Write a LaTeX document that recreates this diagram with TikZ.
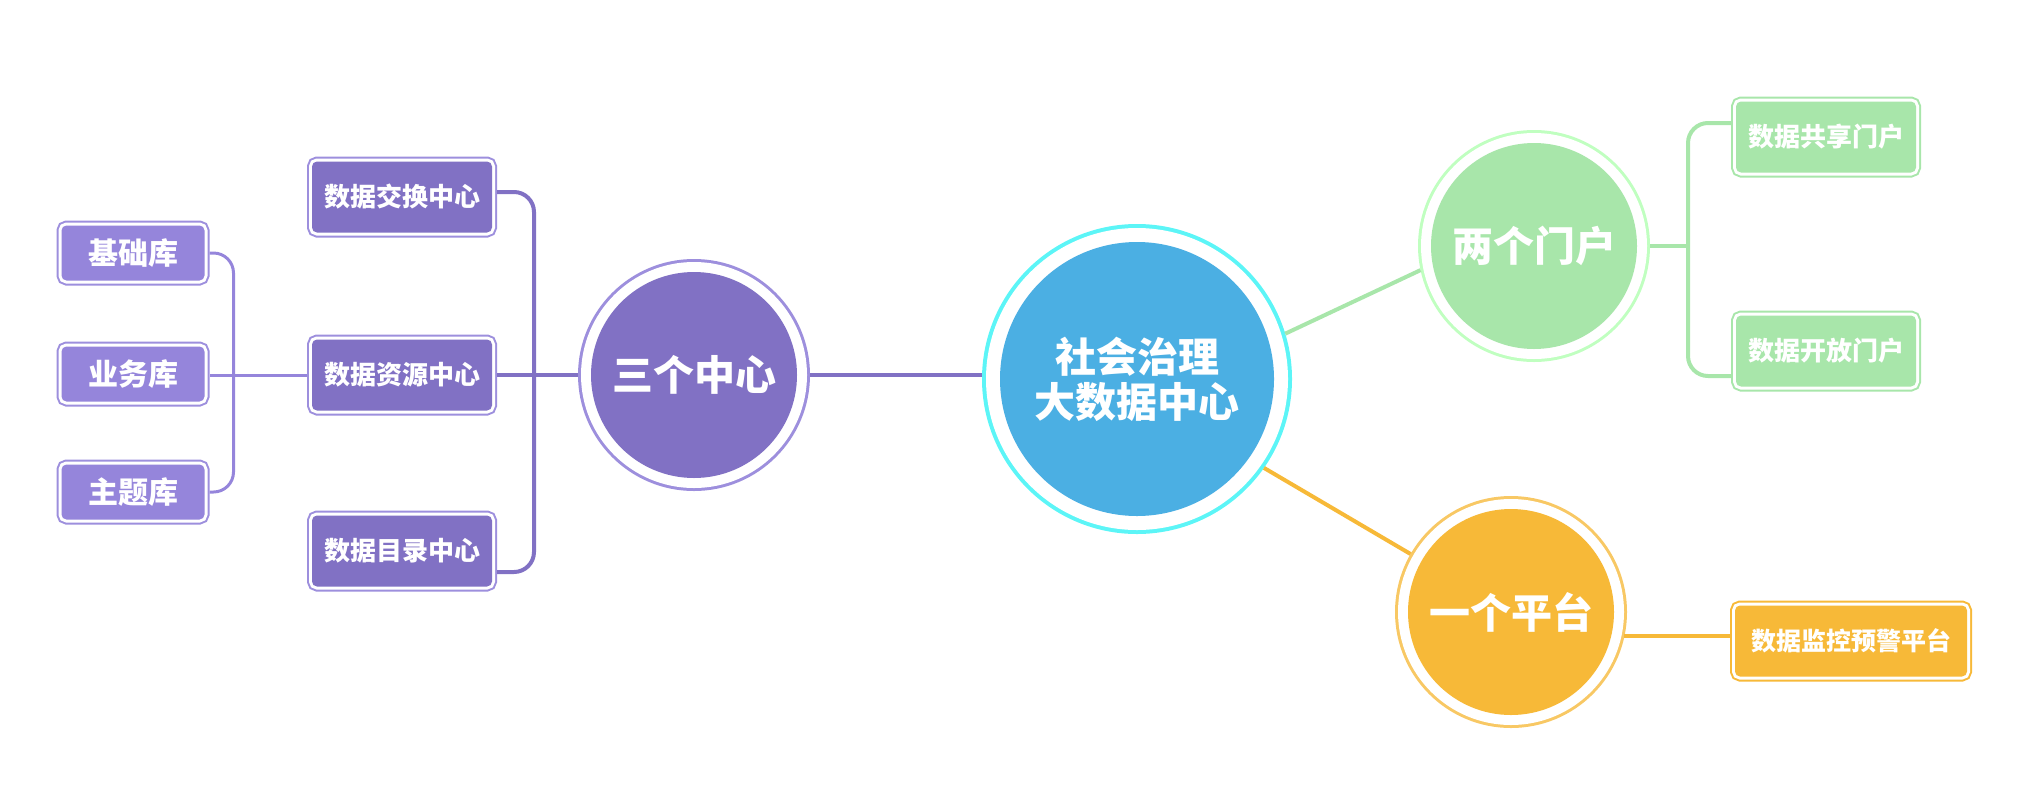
\documentclass[tikz, border = 0pt]{standalone}
\usepackage{fontspec}
\newfontfamily\cjk{Noto Sans CJK SC}
\usepackage{tikz}

\definecolor{hubblue}{RGB}{75, 175, 227}
\definecolor{hubring}{RGB}{92, 245, 247}
\definecolor{centrepurple}{RGB}{129, 113, 196}
\definecolor{purplering}{RGB}{157, 143, 221}
\definecolor{libpurple}{RGB}{149, 133, 219}
\definecolor{portalgreen}{RGB}{168, 230, 170}
\definecolor{greenring}{RGB}{192, 255, 192}
\definecolor{platorange}{RGB}{247, 185, 56}
\definecolor{orangering}{RGB}{248, 200, 100}

\begin{document}
\begin{tikzpicture}[x = 1pt, y = 1pt,
		hub/.style = {circle, fill = hubblue, minimum size = 274, inner sep = 0, outer sep = 18, text = white, align = center, font = \cjk\bfseries\fontsize{41}{47}\selectfont, preaction = {draw = hubring, line width = 36}, preaction = {draw = white, line width = 28}},
		topic/.style 2 args = {circle, fill = #1, minimum size = 206, inner sep = 0, outer sep = 13, text = white, font = \cjk\bfseries\fontsize{41}{48}\selectfont, preaction = {draw = #2, line width = 26}, preaction = {draw = white, line width = 20}},
		leaf/.style 2 args = {rectangle, rounded corners = 5, fill = #1, minimum width = 180, minimum height = 71, inner sep = 0, outer sep = 5, text = white, font = \cjk\bfseries\fontsize{26}{30}\selectfont, preaction = {draw = #2, line width = 10}, preaction = {draw = white, line width = 6}},
		lib/.style = {leaf = {libpurple}{purplering}, minimum width = 143, minimum height = 55, font = \cjk\bfseries\fontsize{30}{34}\selectfont},
		branch/.style = {line width = 4}]
		
		\useasboundingbox (0, 0) rectangle (2041, -801);
		
		\node[hub] (hub) at (1137, -379) {社会治理\\[-2pt]大数据中心};
		\node[topic = {centrepurple}{purplering}] (centres) at (694, -375) {三个中心};
		\node[topic = {portalgreen}{greenring}] (portals) at (1534, -246) {两个门户};
		\node[topic = {platorange}{orangering}] (platform) at (1511, -612) {一个平台};
		
		\node[leaf = {centrepurple}{purplering}] (exchange) at (402, -197) {数据交换中心};
		\node[leaf = {centrepurple}{purplering}] (resource) at (402, -375) {数据资源中心};
		\node[leaf = {centrepurple}{purplering}] (catalog) at (402, -551) {数据目录中心};
		
		\node[lib] (basic) at (133, -253) {基础库};
		\node[lib] (business) at (133, -374) {业务库};
		\node[lib] (theme) at (133, -492) {主题库};
		
		\node[leaf = {portalgreen}{portalgreen}] (share) at (1826, -137) {数据共享门户};
		\node[leaf = {portalgreen}{portalgreen}] (open) at (1826, -351) {数据开放门户};
		\node[leaf = {platorange}{platorange}, minimum width = 232, font = \cjk\bfseries\fontsize{25}{30}\selectfont] (monitor) at (1851, -641) {数据监控预警平台};
		
		\draw[branch, centrepurple] (centres.east) -- (centres.east -| hub.west);
		\draw[branch, portalgreen] (hub.17) -- (portals.192);
		\draw[branch, platorange] (hub.-35) -- (platform.150);
		
		\draw[branch, centrepurple, rounded corners = 20] ([yshift = 5pt] exchange.east) -- ++(37, 0) |- ([yshift = -21pt] catalog.east);
		\draw[branch, centrepurple] (centres.west) -- (resource.east);
		
		\draw[branch, libpurple, line width = 3, rounded corners = 20] (basic.east) -- ++(24, 0) |- (theme.east);
		\draw[branch, libpurple, line width = 3] (resource.west) -- (resource.west -| business.east);
		
		\draw[branch, portalgreen, rounded corners = 20] ([yshift = 14pt] share.west) -- ++(-43, 0) |- ([yshift = -25pt] open.west);
		\draw[branch, portalgreen] (portals.east) -- ++(38, 0);
		
		\draw[branch, platorange] (platform.-12) -- (platform.-12 -| monitor.west);
	\end{tikzpicture}
\end{document}
